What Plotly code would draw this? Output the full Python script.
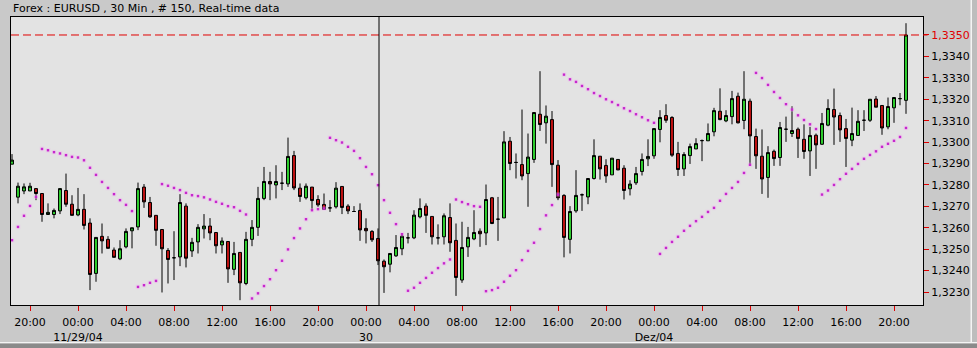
import pandas as pd
import plotly.graph_objects as go

# ---------------- data (EURUSD, 30 min bars) ----------------
start_time = "2004-11-28 18:30"

open_ = [1.32897,1.32743,1.32772,1.32772,1.32783,1.32760,1.32662,1.32662,1.32679,1.32774,
         1.32710,1.32660,1.32686,1.32622,1.32387,1.32560,1.32546,1.32496,1.32455,1.32511,
         1.32586,1.32604,1.32790,1.32718,1.32658,1.32592,1.32494,1.32460,1.32464,1.32701,
         1.32492,1.32534,1.32595,1.32608,1.32578,1.32520,1.32536,1.32406,1.32485,1.32340,
         1.32546,1.32602,1.32737,1.32816,1.32800,1.32808,1.32805,1.32937,1.32785,1.32740,
         1.32790,1.32732,1.32709,1.32693,1.32698,1.32793,1.32701,1.32676,1.32681,1.32597,
         1.32583,1.32550,1.32444,1.32430,1.32469,1.32502,1.32553,1.32553,1.32651,1.32701,
         1.32653,1.32553,1.32558,1.32648,1.32541,1.32356,1.32511,1.32548,1.32584,1.32576,
         1.32740,1.32640,1.32646,1.33004,1.32905,1.32895,1.32853,1.32919,1.33130,1.33090,
         1.33105,1.32892,1.32751,1.32546,1.32679,1.32754,1.32744,1.32830,1.32934,1.32891,
         1.32847,1.32919,1.32878,1.32782,1.32810,1.32863,1.32922,1.32936,1.33059,1.33124,
         1.33115,1.32947,1.32875,1.32937,1.32968,1.33007,1.33006,1.33048,1.33144,1.33099,
         1.33119,1.33214,1.33101,1.33191,1.33026,1.32934,1.32835,1.32957,1.32928,1.33060,
         1.33040,1.33060,1.33013,1.32959,1.33032,1.32990,1.33079,1.33152,1.33124,1.33063,
         1.33009,1.33031,1.33102,1.33102,1.33201,1.33171,1.33071,1.33160,1.33203,1.33195]

high = [1.32944,1.32811,1.32807,1.32810,1.32783,1.32760,1.32714,1.32690,1.32783,1.32853,
        1.32752,1.32786,1.32757,1.32644,1.32555,1.32620,1.32561,1.32508,1.32542,1.32597,
        1.32600,1.32811,1.32804,1.32744,1.32658,1.32592,1.32505,1.32584,1.32757,1.32714,
        1.32553,1.32617,1.32664,1.32645,1.32578,1.32555,1.32536,1.32534,1.32485,1.32581,
        1.32636,1.32791,1.32884,1.32861,1.32892,1.32861,1.33021,1.32959,1.32807,1.32807,
        1.32790,1.32752,1.32760,1.32729,1.32813,1.32793,1.32710,1.32701,1.32714,1.32644,
        1.32589,1.32597,1.32452,1.32480,1.32566,1.32574,1.32576,1.32682,1.32737,1.32714,
        1.32653,1.32616,1.32667,1.32714,1.32620,1.32628,1.32604,1.32682,1.32597,1.32802,
        1.32744,1.32744,1.33051,1.33024,1.32947,1.33152,1.33040,1.33138,1.33331,1.33171,
        1.33145,1.32916,1.32757,1.32701,1.32869,1.32760,1.32830,1.33013,1.32934,1.32920,
        1.32925,1.32919,1.32892,1.32822,1.32884,1.32947,1.33013,1.33063,1.33149,1.33177,
        1.33121,1.33001,1.32953,1.32993,1.33018,1.33012,1.33087,1.33160,1.33251,1.33149,
        1.33239,1.33231,1.33331,1.33203,1.33063,1.33059,1.32981,1.32965,1.33094,1.33119,
        1.33167,1.33068,1.33083,1.33071,1.33040,1.33136,1.33200,1.33250,1.33138,1.33108,
        1.33161,1.33149,1.33149,1.33200,1.33215,1.33173,1.33208,1.33208,1.33229,1.33555]

low = [1.32897,1.32714,1.32757,1.32772,1.32729,1.32628,1.32662,1.32644,1.32664,1.32698,
       1.32658,1.32654,1.32592,1.32309,1.32348,1.32480,1.32504,1.32462,1.32449,1.32504,
       1.32504,1.32589,1.32693,1.32646,1.32516,1.32298,1.32340,1.32356,1.32421,1.32415,
       1.32464,1.32480,1.32550,1.32542,1.32480,1.32480,1.32343,1.32379,1.32262,1.32332,
       1.32514,1.32562,1.32729,1.32729,1.32737,1.32776,1.32791,1.32776,1.32721,1.32732,
       1.32686,1.32698,1.32686,1.32674,1.32690,1.32664,1.32664,1.32676,1.32539,1.32527,
       1.32534,1.32426,1.32296,1.32392,1.32464,1.32472,1.32527,1.32547,1.32644,1.32576,
       1.32522,1.32522,1.32522,1.32488,1.32282,1.32343,1.32464,1.32542,1.32511,1.32519,
       1.32617,1.32539,1.32646,1.32869,1.32830,1.32822,1.32698,1.32903,1.33052,1.32993,
       1.32791,1.32729,1.32462,1.32480,1.32670,1.32679,1.32710,1.32825,1.32825,1.32810,
       1.32847,1.32870,1.32732,1.32751,1.32800,1.32844,1.32888,1.32922,1.32999,1.33090,
       1.32931,1.32842,1.32842,1.32898,1.32968,1.32911,1.33006,1.33027,1.33102,1.33093,
       1.33083,1.33087,1.33060,1.32897,1.32875,1.32758,1.32740,1.32889,1.32889,1.33001,
       1.33024,1.32926,1.32922,1.32842,1.32875,1.32987,1.33074,1.32987,1.33001,1.32884,
       1.32981,1.33031,1.33052,1.33094,1.33163,1.33034,1.33060,1.33090,1.33172,1.33132]

close = [1.32916,1.32794,1.32791,1.32794,1.32760,1.32662,1.32672,1.32681,1.32783,1.32710,
         1.32658,1.32686,1.32611,1.32382,1.32555,1.32539,1.32504,1.32462,1.32502,1.32583,
         1.32600,1.32783,1.32721,1.32651,1.32588,1.32502,1.32452,1.32460,1.32718,1.32458,
         1.32532,1.32602,1.32608,1.32576,1.32516,1.32538,1.32408,1.32480,1.32343,1.32546,
         1.32602,1.32737,1.32816,1.32805,1.32816,1.32808,1.32933,1.32786,1.32746,1.32794,
         1.32727,1.32707,1.32686,1.32693,1.32785,1.32695,1.32679,1.32676,1.32590,1.32586,
         1.32544,1.32446,1.32418,1.32480,1.32508,1.32561,1.32553,1.32659,1.32690,1.32658,
         1.32558,1.32553,1.32656,1.32530,1.32368,1.32508,1.32555,1.32578,1.32572,1.32732,
         1.32620,1.32640,1.33001,1.32900,1.32905,1.32842,1.32930,1.33138,1.33082,1.33121,
         1.32895,1.32740,1.32555,1.32676,1.32751,1.32754,1.32830,1.32937,1.32875,1.32842,
         1.32925,1.32870,1.32774,1.32804,1.32853,1.32919,1.32933,1.33063,1.33115,1.33102,
         1.32939,1.32872,1.32942,1.32979,1.32993,1.33007,1.33040,1.33147,1.33105,1.33124,
         1.33203,1.33090,1.33200,1.33029,1.32936,1.32828,1.32951,1.32923,1.33068,1.33060,
         1.33054,1.33017,1.32956,1.33031,1.32987,1.33087,1.33157,1.33117,1.33057,1.33017,
         1.33040,1.33097,1.33102,1.33200,1.33163,1.33066,1.33166,1.33208,1.33203,1.33500]

sar = [1.32542,1.32604,1.32656,1.32702,1.32744,1.32968,1.32962,1.32953,1.32947,1.32939,
       1.32931,1.32928,1.32915,1.32880,1.32847,1.32814,1.32786,1.32757,1.32729,1.32707,
       1.32678,1.32324,1.32332,1.32343,1.32352,1.32804,1.32796,1.32786,1.32776,1.32763,
       1.32752,1.32748,1.32742,1.32732,1.32721,1.32712,1.32701,1.32696,1.32679,1.32662,
       1.32270,1.32294,1.32328,1.32360,1.32402,1.32446,1.32499,1.32552,1.32597,1.32640,
       1.32682,1.32687,1.32690,1.33020,1.33009,1.32998,1.32978,1.32959,1.32925,1.32884,
       1.32850,1.32799,1.32729,1.32670,1.32617,1.32570,1.32306,1.32320,1.32343,1.32366,
       1.32390,1.32412,1.32434,1.32452,1.32732,1.32720,1.32710,1.32701,1.32698,1.32304,
       1.32309,1.32320,1.32348,1.32376,1.32402,1.32449,1.32492,1.32530,1.32594,1.32658,
       1.32706,1.32755,1.33315,1.33293,1.33281,1.33262,1.33247,1.33229,1.33215,1.33200,
       1.33187,1.33173,1.33158,1.33145,1.33130,1.33116,1.33102,1.33090,1.32478,1.32506,
       1.32534,1.32558,1.32586,1.32609,1.32631,1.32651,1.32674,1.32693,1.32726,1.32758,
       1.32786,1.32814,1.32856,1.32894,1.33323,1.33299,1.33267,1.33234,1.33206,1.33177,
       1.33152,1.33125,1.33103,1.33083,1.33061,1.32755,1.32774,1.32800,1.32827,1.32852,
       1.32875,1.32898,1.32922,1.32940,1.32957,1.32978,1.32992,1.33006,1.33024,1.33066]

last_price = 1.3350
cursor_time = "2004-11-30 01:05"

y_ticks = [1.3230, 1.3240, 1.3250, 1.3260, 1.3270, 1.3280, 1.3290,
           1.3300, 1.3310, 1.3320, 1.3330, 1.3340, 1.3350]
y_labels = ["1,3230", "1,3240", "1,3250", "1,3260", "1,3270", "1,3280", "1,3290",
            "1,3300", "1,3310", "1,3320", "1,3330", "1,3340",
            "<span style='color:#e00000'>1,3350</span>"]

x_ticks = ["2004-11-28 20:00", "2004-11-29 00:00", "2004-11-29 04:00", "2004-11-29 08:00",
           "2004-11-29 12:00", "2004-11-29 16:00", "2004-11-29 20:00", "2004-11-30 00:00",
           "2004-11-30 04:00", "2004-11-30 08:00", "2004-11-30 12:00", "2004-11-30 16:00",
           "2004-11-30 20:00", "2004-12-01 00:00", "2004-12-01 04:00", "2004-12-01 08:00",
           "2004-12-01 12:00", "2004-12-01 16:00", "2004-12-01 20:00"]
x_labels = ["20:00", "00:00<br>11/29/04", "04:00", "08:00", "12:00", "16:00", "20:00",
            "00:00<br>30", "04:00", "08:00", "12:00", "16:00", "20:00",
            "00:00<br>Dez/04", "04:00", "08:00", "12:00", "16:00", "20:00"]

title_text = "Forex : EURUSD , 30 Min , # 150, Real-time data"

times = pd.date_range(start_time, periods=len(close), freq="30min")

# ---------------- figure ----------------
W, H = 977, 348
ML, MR, MT, MB = 11, 54, 17, 43
FONT = "DejaVu Sans"

fig = go.Figure()

fig.add_trace(go.Scatter(
    x=times, y=sar, mode="markers",
    marker=dict(symbol="square", size=4.5, color="rgba(245,170,245,0.35)", line=dict(width=0)),
    hoverinfo="skip", showlegend=False))
fig.add_trace(go.Scatter(
    x=times, y=sar, mode="markers",
    marker=dict(symbol="square", size=2.4, color="#c628cc", line=dict(width=0)),
    name="SAR", showlegend=False))

fig.add_trace(go.Candlestick(
    x=times, open=open_, high=high, low=low, close=close,
    increasing=dict(fillcolor="#2fd02f", line=dict(color="#000000", width=1)),
    decreasing=dict(fillcolor="#c01212", line=dict(color="#000000", width=1)),
    whiskerwidth=0, showlegend=False, name="EURUSD"))

plot_h = H - MT - MB
def py(pix):  # pixel row -> paper y (frame decoration only)
    return (H - MB - pix) / plot_h
plot_w = W - ML - MR
def px(pix):
    return (pix - ML) / plot_w

shapes = [
    dict(type="line", xref="paper", yref="y", x0=0, x1=1.005, y0=last_price, y1=last_price,
         line=dict(color="#e00000", width=1, dash="8px,4px"), layer="above"),
    dict(type="line", xref="x", yref="paper", x0=cursor_time, x1=cursor_time, y0=0, y1=1,
         line=dict(color="#000000", width=1), layer="above"),
    # window frame at the bottom / right
    dict(type="rect", xref="paper", yref="paper", x0=px(0), x1=px(W), y0=py(342), y1=py(343.5),
         fillcolor="#f4f4f4", line=dict(width=0), layer="above"),
    dict(type="rect", xref="paper", yref="paper", x0=px(0), x1=px(W), y0=py(343.5), y1=py(H),
         fillcolor="#8a8a8a", line=dict(width=0), layer="above"),
    dict(type="rect", xref="paper", yref="paper", x0=px(970.5), x1=px(972), y0=py(0), y1=py(342),
         fillcolor="#f4f4f4", line=dict(width=0), layer="above"),
    dict(type="rect", xref="paper", yref="paper", x0=px(972), x1=px(W), y0=py(0), y1=py(342),
         fillcolor="#bdbdbd", line=dict(width=0), layer="above"),
]

fig.update_layout(
    width=W, height=H,
    margin=dict(l=ML, r=MR, t=MT, b=MB, pad=0, autoexpand=False),
    paper_bgcolor="#c9c9c9", plot_bgcolor="#e3e3e3",
    font=dict(family=FONT, size=11, color="#000000"),
    showlegend=False,
    shapes=shapes,
    annotations=[dict(text=title_text, xref="paper", yref="paper", x=px(11), y=1,
                      xanchor="left", yanchor="bottom", yshift=0, showarrow=False,
                      font=dict(family=FONT, size=11, color="#000000"))],
    xaxis=dict(type="date", range=["2004-11-28 18:25", "2004-12-01 22:25"],
               automargin=False,
               tickmode="array", tickvals=x_ticks, ticktext=x_labels,
               ticks="outside", ticklen=5, tickwidth=1, tickcolor="#e00000",
               ticklabelstandoff=2,
               showgrid=False, zeroline=False, showline=True, mirror=True,
               linecolor="#000000", linewidth=1,
               rangeslider=dict(visible=False),
               tickfont=dict(family=FONT, size=11, color="#000000")),
    yaxis=dict(side="right", range=[1.322395, 1.33584],
               automargin=False,
               tickmode="array", tickvals=y_ticks, ticktext=y_labels,
               ticks="outside", ticklen=5, tickwidth=1, tickcolor="#e00000",
               showgrid=False, zeroline=False, showline=True, mirror=True,
               linecolor="#000000", linewidth=1,
               tickfont=dict(family=FONT, size=11, color="#000000")),
)

fig.write_html("out.html")
